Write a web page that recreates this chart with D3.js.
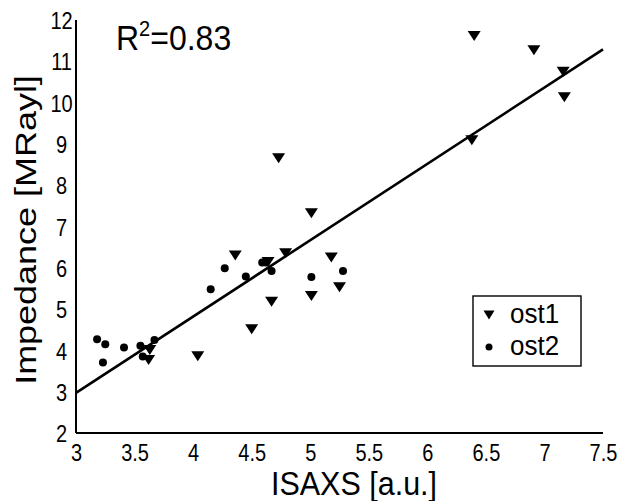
<!DOCTYPE html>
<html><head><meta charset="utf-8">
<script src="https://cdn.jsdelivr.net/npm/d3@7"></script>
<style>
html,body{margin:0;padding:0;background:#fff;}
svg{display:block;font-family:"Liberation Sans",Arial,sans-serif;}
</style></head>
<body>
<svg id="chart" width="619" height="501"></svg>
<script>
// ---- data ----
const ost1X = [3.63, 3.62, 4.04, 4.36, 4.50, 4.64, 4.67, 4.73, 4.79, 5.01, 5.01, 5.18, 5.25, 6.38, 6.40, 6.91, 7.16, 7.17];
const ost1Y = [4.01, 3.77, 3.86, 6.30, 4.51, 6.14, 5.18, 8.65, 6.35, 7.32, 5.32, 6.25, 5.53, 9.09, 11.61, 11.27, 10.75, 10.13];
const ost2X = [3.18, 3.25, 3.23, 3.41, 3.55, 3.57, 3.67, 4.15, 4.27, 4.45, 4.59, 4.62, 4.67, 5.01, 5.28];
const ost2Y = [4.27, 4.15, 3.71, 4.07, 4.11, 3.85, 4.25, 5.48, 5.99, 5.79, 6.13, 6.13, 5.92, 5.78, 5.92];
const fitX = [3.0, 7.5];
const fitY = [2.97, 11.29];
const xTicks = [3, 3.5, 4, 4.5, 5, 5.5, 6, 6.5, 7, 7.5];
const yTicks = [2, 3, 4, 5, 6, 7, 8, 9, 10, 11, 12];
const seriesNames = ["ost1", "ost2"];
const r2Label = "0.83";

// ---- layout ----
const svg = d3.select("#chart");
const x = d3.scaleLinear().domain([3, 7.5]).range([76, 603]);
const y = d3.scaleLinear().domain([2, 12]).range([433, 20]);
const FONT = "Liberation Sans, Arial, sans-serif";

// axes
const xAxis = d3.axisBottom(x).tickValues(xTicks).tickSize(0).tickPadding(0)
  .tickFormat(d => String(d));
const gx = svg.append("g").attr("transform", `translate(0,${y(2)})`).call(xAxis);
gx.select(".domain").attr("d", `M${x(3)},0H${x(7.5)}`).attr("stroke", "#000").attr("stroke-width", 2);
gx.selectAll("text").attr("y", 0).attr("dy", null).attr("fill", "#000")
  .attr("transform", "translate(0,27.5) scale(1,1.2)")
  .attr("font-size", 20).attr("font-family", FONT);

const yAxis = d3.axisLeft(y).tickValues(yTicks).tickSize(0).tickPadding(0)
  .tickFormat(d => String(d));
const gy = svg.append("g").attr("transform", `translate(${x(3)},0)`).call(yAxis);
gy.select(".domain").attr("d", `M0,${y(12)}V${y(2)}`).attr("stroke", "#000").attr("stroke-width", 2);
gy.selectAll("text").attr("x", 0).attr("text-anchor", "middle").attr("dy", "0.36em")
  .attr("transform", "translate(-14.5,0) scale(1,1.2)")
  .attr("fill", "#000").attr("font-size", 20).attr("font-family", FONT);

// axis titles
svg.append("text").attr("transform", "translate(354,494.5) scale(1,1.09)").attr("text-anchor", "middle")
  .attr("font-size", 30.5).text("ISAXS [a.u.]");
svg.append("text").attr("transform", `translate(36,230) scale(1,1.24) rotate(-90)`).attr("text-anchor", "middle")
  .attr("font-size", 29).text("Impedance [MRayl]");

// fit line
const line = d3.line().x(d => x(d[0])).y(d => y(d[1]));
svg.append("path").datum(d3.zip(fitX, fitY)).attr("d", line)
  .attr("fill", "none").attr("stroke", "#000").attr("stroke-width", 2.6);

// markers
const triPath = (cx, cy, w, h) => `M${cx - w / 2},${cy - h / 2}L${cx + w / 2},${cy - h / 2}L${cx},${cy + h / 2}Z`;
svg.append("g").selectAll("path").data(d3.zip(ost1X, ost1Y)).join("path")
  .attr("d", d => triPath(x(d[0]), y(d[1]), 13, 10)).attr("fill", "#000");
svg.append("g").selectAll("circle").data(d3.zip(ost2X, ost2Y)).join("circle")
  .attr("cx", d => x(d[0])).attr("cy", d => y(d[1])).attr("r", 4).attr("fill", "#000");

// R^2
const rt = svg.append("text").attr("transform", "translate(116,50) scale(1,1.08)").attr("font-size", 32);
rt.append("tspan").text("R");
rt.append("tspan").attr("font-size", 20).attr("dy", -13).text("2");
rt.append("tspan").attr("dy", 13).text("=" + r2Label);

// legend
const lg = svg.append("g");
lg.append("rect").attr("x", 473).attr("y", 296).attr("width", 108).attr("height", 70)
  .attr("fill", "#fff").attr("stroke", "#000").attr("stroke-width", 1.4);
lg.append("path").attr("d", triPath(489, 315, 11, 9)).attr("fill", "#000");
lg.append("circle").attr("cx", 489).attr("cy", 347).attr("r", 3.5).attr("fill", "#000");
lg.append("text").attr("transform", "translate(510,323) scale(1,1.08)").attr("font-size", 26).text(seriesNames[0]);
lg.append("text").attr("transform", "translate(510,355) scale(1,1.08)").attr("font-size", 26).text(seriesNames[1]);
</script>
</body></html>
